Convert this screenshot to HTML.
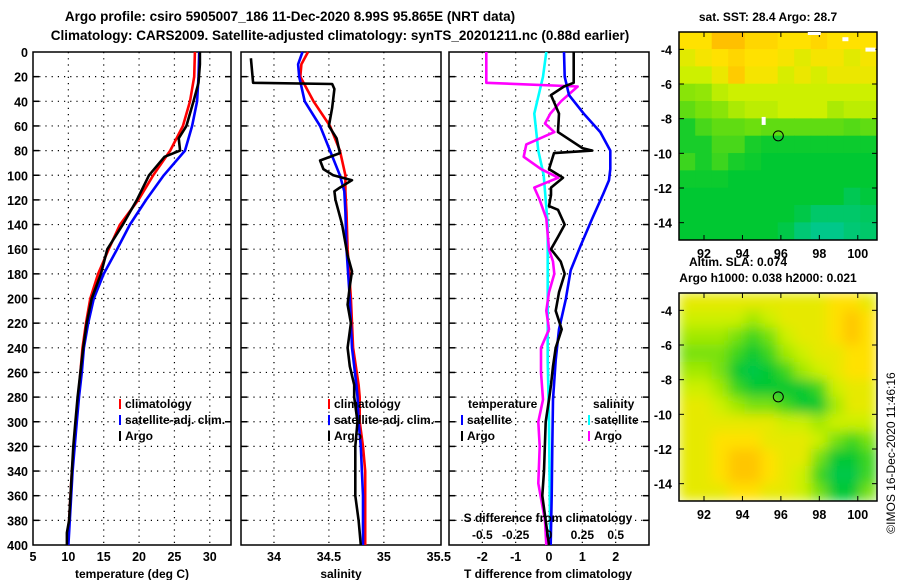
<!DOCTYPE html>
<html><head><meta charset="utf-8">
<style>
html,body{margin:0;padding:0;background:#fff;}
svg{display:block;font-family:"Liberation Sans",sans-serif;font-weight:bold;}
</style></head>
<body>
<svg id="fig" width="900" height="580" viewBox="0 0 900 580" xmlns="http://www.w3.org/2000/svg">
<text x="290" y="21" font-size="13.5" text-anchor="middle">Argo profile: csiro 5905007_186 11-Dec-2020 8.99S 95.865E (NRT data)</text>
<text x="340" y="40" font-size="13.5" text-anchor="middle">Climatology: CARS2009. Satellite-adjusted climatology: synTS_20201211.nc (0.88d earlier)</text>
<g id="plots"></g>
<text x="768" y="21" font-size="12" text-anchor="middle">sat. SST: 28.4 Argo: 28.7</text>
<text x="738" y="266" font-size="12" text-anchor="middle">Altim. SLA: 0.074</text>
<text x="768" y="282" font-size="12" text-anchor="middle">Argo h1000: 0.038 h2000: 0.021</text>
<text transform="translate(895,453) rotate(-90)" font-size="12" font-weight="normal" text-anchor="middle">©IMOS 16-Dec-2020 11:46:16</text>
</svg>
<script>
// ---------- data ----------
const tempDepthClim = [0,20,40,60,80,100,120,140,160,180,200,220,240,260,280,300,320,340,360,380,400];
const tempClim = [27.9,27.8,27.2,26.2,24.4,22.0,19.9,17.3,15.7,14.2,13.1,12.5,12.0,11.7,11.4,11.1,10.8,10.5,10.3,10.1,9.9];
const tempSat  = [28.5,28.4,28.2,27.5,26.5,23.5,21.0,18.7,16.9,15.0,13.6,12.8,12.2,11.9,11.5,11.2,10.9,10.6,10.4,10.2,10.0];
const tempArgoDepth = [0,10,25,40,60,70,80,85,100,120,140,160,180,200,220,240,260,280,300,320,340,360,380,390,400];
const tempArgo = [28.6,28.6,28.4,27.7,26.7,25.6,25.8,23.6,21.4,19.7,17.7,15.5,14.6,13.3,12.6,12.1,11.7,11.3,11.0,10.7,10.5,10.3,10.1,9.8,9.8];

const salDepthClim = [0,10,20,40,60,80,100,113,130,160,200,240,270,280,300,320,340,360,380,400];
const salClim = [34.31,34.25,34.24,34.36,34.51,34.60,34.65,34.65,34.66,34.67,34.70,34.72,34.77,34.78,34.78,34.81,34.83,34.83,34.83,34.83];
const salSat  = [34.26,34.22,34.23,34.28,34.42,34.51,34.60,34.64,34.65,34.66,34.69,34.71,34.75,34.76,34.77,34.79,34.80,34.81,34.81,34.81];
const salArgoDepth = [5,25,26,30,45,60,70,82,88,95,100,104,110,113,120,130,140,165,178,190,205,220,240,255,270,280,300,320,340,360,380,400];
const salArgo = [33.79,33.81,34.53,34.55,34.53,34.50,34.57,34.60,34.42,34.45,34.54,34.71,34.60,34.55,34.56,34.59,34.62,34.67,34.71,34.69,34.67,34.70,34.67,34.69,34.73,34.73,34.76,34.74,34.74,34.74,34.77,34.79];

const tdDepth = [0,20,35,50,65,80,95,104,115,135,157,177,201,225,250,282,320,360,400];
const tdSat = [0.45,0.47,0.6,1.04,1.54,1.84,1.84,1.8,1.63,1.3,0.95,0.65,0.5,0.3,0.2,0.12,0.1,0.08,0.05];
const tdArgoDepth = [0,25,28,35,50,65,78,80,82,95,102,110,116,125,128,140,150,160,170,180,195,210,225,240,255,270,282,300,340,360,400];
const tdArgo = [0.74,0.74,0.45,0.06,0.3,0.27,1.0,1.3,0.15,0.0,0.42,0.06,0.06,0.0,0.27,0.47,0.27,0.06,0.35,0.47,0.3,0.2,0.38,0.2,0.12,0.06,0.0,-0.1,-0.15,-0.2,0.0];
const sdDepth = [0,20,50,80,100,140,180,250,300,400];
const sdSat = [-0.02,-0.045,-0.11,-0.08,-0.04,-0.01,-0.01,-0.01,0.0,0.01];
const sdArgoDepth = [0,24,25,28,40,50,58,65,75,85,95,102,110,120,135,160,170,180,195,210,225,240,260,282,300,320,350,380,400];
const sdArgo = [-0.47,-0.47,-0.47,0.215,0.09,0.01,-0.03,0.04,-0.17,-0.19,-0.06,0.07,-0.11,-0.07,-0.02,0.0,0.03,0.04,0.0,-0.02,0.0,-0.06,-0.06,-0.045,-0.08,-0.07,-0.08,-0.03,-0.02];

const depthTicks = [0,20,40,60,80,100,120,140,160,180,200,220,240,260,280,300,320,340,360,380,400];
const tempTicks = [5,10,15,20,25,30];
const salTicks = [34,34.5,35,35.5];
const tdTicks = [-2,-1,0,1,2];
const sdTickLabels = ["-0.5","-0.25","0","0.25","0.5"];
const sdTicks = [-0.5,-0.25,0,0.25,0.5];

// map grids (colour index 0=teal .. 5=orange), rows north->south
const sstGrid = [
[4,4,4.6,4.6,4.2,4.2,4,4,4.2,4,4,4],
[3.4,3.8,4,4.2,4,4,3.8,3.4,3.8,3.8,3.4,3.8],
[3,3,3.6,4.4,3.8,3.8,3.2,3.6,3.2,3.6,3.6,3.6],
[2.2,2.3,2.8,3,3,3,3,3,3,3,3,3],
[1.8,2,2.2,2.6,2.8,2.8,3,3,3,2.6,2.8,2.8],
[1.2,1.6,1.8,1.8,1.9,1.8,1.8,1.8,1.8,1.8,1.7,1.8],
[1.2,1.2,1.6,1.6,1.2,1.1,1.1,1.1,1.1,1.1,1.1,1.1],
[1.5,1.2,1.5,1.2,1.1,1,1,1,1,1,1,1],
[1.1,1.1,1.1,1,1,1,1,1,1,1,1,1],
[1,1,1,1,1,1,1,1,1,1,0.7,0.9],
[1,1,1,1,1,1,1,0.8,0.5,0.5,0.5,0.6],
[1,1,1,1,1,1,0.8,0.4,0.2,0.2,0.4,0.5]];
const slaGrid = [
[3.5,3.5,3.5,3.5,3.5,3.5,3.5,3.5,3.5,4,4,3.5],
[3,3,3,3,2.5,3,3.5,3.5,3.5,4,4.5,4],
[2.5,2.5,2.5,2,1.5,2,3,3.5,3.5,4,4.5,4],
[2,2,2,1.5,1,1.5,2.5,3,3.5,3.5,4,4],
[2.5,2.5,2,1,0.8,1,1.5,2.5,3,3.5,4,4],
[3,3,2.5,1.5,1,1,1,1,1.5,3,3.5,3.5],
[3.5,3.5,3,2.5,2,2,1.5,1,1,2.5,3.5,3.5],
[3.5,3.5,3.5,3.5,3.5,3.5,3,3,2.5,3,3,3],
[3.5,3.5,4,4,4,3.5,3.5,3.5,3,2,1.5,2],
[3.5,3.5,4,4.5,4.5,4,3.5,3.5,2,1,1,1.5],
[3.5,3.5,4,4.5,4.5,4,3.5,3,1.5,0.8,0.8,1.5],
[3.5,3.5,3.5,4,4,3.5,3.5,3,2,1,1,2]];
const lonTicks = [92,94,96,98,100];
const latTicks = [-4,-6,-8,-10,-12,-14];
const argoLon = 95.865, argoLat = -8.99;

// ---------- drawing ----------
const NS = "http://www.w3.org/2000/svg";
const root = document.getElementById('plots');
function mk(tag, attrs, parent){ const e=document.createElementNS(NS,tag); for(const k in attrs) e.setAttribute(k,attrs[k]); (parent||root).appendChild(e); return e; }
const Y0=52, Y1=545;
const yD = d => Y0 + d*(Y1-Y0)/400;

function panel(name, x0, x1, vmin, vmax, gridVals){
  const g = mk('g',{});
  
  
  const sx = v => x0 + (v-vmin)*(x1-x0)/(vmax-vmin);
  gridVals.forEach(v=>{ const l=mk('line',{x1:sx(v),x2:sx(v),y1:Y0,y2:Y1,stroke:'#000','stroke-width':1.2,'stroke-dasharray':'1.2,5'},g);
      });
  depthTicks.forEach(d=>{ if(d===0||d===400) return; const l=mk('line',{x1:x0,x2:x1,y1:yD(d),y2:yD(d),stroke:'#000','stroke-width':1.2,'stroke-dasharray':'1.2,5'},g);
     
    mk('line',{x1:x0,x2:x0+6,y1:yD(d),y2:yD(d),stroke:'#000','stroke-width':1.5},g); mk('line',{x1:x1-6,x2:x1,y1:yD(d),y2:yD(d),stroke:'#000','stroke-width':1.5},g); });
  const r=mk('rect',{x:x0,y:Y0,width:x1-x0,height:Y1-Y0,fill:'none',stroke:'#000','stroke-width':1.5},g);
   
  return {g,sx};
}
function line(g, sx, depths, vals, color, name){
  const pts = depths.map((d,i)=>sx(vals[i]).toFixed(1)+','+yD(d).toFixed(1)).join(' ');
  const p = mk('polyline',{points:pts,fill:'none',stroke:color,'stroke-width':2.6,'stroke-linejoin':'round'},g);
  
  
}
function txt(s,x,y,attrs,name){ const t=mk('text',Object.assign({x:x,y:y,'font-size':12},attrs||{})); t.textContent=s;
  
  
  return t; }

// y tick labels
depthTicks.forEach(d=>{ txt(String(d),28,yD(d)+5,{'text-anchor':'end','font-size':12.5},'y-tick-label'); });

// panel 1
const P1 = panel('temperature-panel',33,231,5,33,[10,15,20,25,30]);
line(P1.g,P1.sx,tempDepthClim,tempClim,'#ff0000','temp-climatology-line');
line(P1.g,P1.sx,tempDepthClim,tempSat,'#0000ff','temp-satellite-line');
line(P1.g,P1.sx,tempArgoDepth,tempArgo,'#000000','temp-argo-line');
tempTicks.forEach(v=>txt(String(v),P1.sx(v),561,{'text-anchor':'middle','font-size':12.5},'x-tick-label'));
txt('temperature (deg C)',132,578,{'text-anchor':'middle'},'x-axis-title');

// panel 2
const P2 = panel('salinity-panel',241,441,33.7,35.52,[34,34.5,35]);
line(P2.g,P2.sx,salDepthClim,salClim,'#ff0000','sal-climatology-line');
line(P2.g,P2.sx,salDepthClim,salSat,'#0000ff','sal-satellite-line');
line(P2.g,P2.sx,salArgoDepth,salArgo,'#000000','sal-argo-line');
salTicks.forEach(v=>txt(String(v),P2.sx(v),561,{'text-anchor':'middle','font-size':12.5},'x-tick-label'));
txt('salinity',341,578,{'text-anchor':'middle'},'x-axis-title');

// panel 3
const P3 = panel('difference-panel',449,649,-3,3,[-2,-1,0,1,2]);
const sxS = v => P3.sx(v*4);
line(P3.g,sxS,sdDepth,sdSat,'#00ffff','sal-diff-satellite-line');
line(P3.g,sxS,sdArgoDepth,sdArgo,'#ff00ff','sal-diff-argo-line');
line(P3.g,P3.sx,tdDepth,tdSat,'#0000ff','temp-diff-satellite-line');
line(P3.g,P3.sx,tdArgoDepth,tdArgo,'#000000','temp-diff-argo-line');
tdTicks.forEach(v=>txt(String(v),P3.sx(v),561,{'text-anchor':'middle','font-size':12.5},'x-tick-label'));
txt('T difference from climatology',548,578,{'text-anchor':'middle'},'x-axis-title');
txt('S difference from climatology',548,522,{'text-anchor':'middle'},'s-axis-title');
sdTicks.forEach((v,i)=>txt(sdTickLabels[i],sxS(v),539,{'text-anchor':'middle'},'s-tick-label'));

// legends
function legItem(x,y,color,label){ const r=mk('rect',{x:x,y:y-9,width:2,height:10,fill:color});
   
  txt(label,x+6,y,{},'legend-entry'); }
[[119,'#ff0000','climatology'],[119,'#0000ff','satellite-adj. clim.'],[119,'#000','Argo']].forEach((e,i)=>legItem(e[0],408+16*i,e[1],e[2]));
[[328,'#ff0000','climatology'],[328,'#0000ff','satellite-adj. clim.'],[328,'#000','Argo']].forEach((e,i)=>legItem(e[0],408+16*i,e[1],e[2]));
txt('temperature',468,408,{},'legend-group-title');
txt('salinity',593,408,{},'legend-group-title');
legItem(461,424,'#0000ff','satellite'); legItem(461,440,'#000','Argo');
legItem(588,424,'#00ffff','satellite'); legItem(588,440,'#ff00ff','Argo');

// maps
function cmap(v){
  const stops=[[0,[0,200,160]],[1,[0,200,50]],[2,[120,225,10]],[3,[205,240,0]],[4,[255,225,0]],[5,[255,170,0]]];
  v=Math.max(0,Math.min(5,v)); const i=Math.min(4,Math.floor(v)); const f=v-i; const a=stops[i][1], b=stops[i+1][1];
  return 'rgb('+a.map((c,k)=>Math.round(c+(b[k]-c)*f)).join(',')+')';
}
function map(name, top, grid, blur){
  const x0=679,x1=877,y0=top,y1=top+208, lon0=90.7,lon1=101.0, lat0=-3.0,lat1=-15.0;
  const mx = l => x0+(l-lon0)*(x1-x0)/(lon1-lon0);
  const my = l => y0+(l-lat0)*(y1-y0)/(lat1-lat0);
  const g=mk('g',{});
  
  
  const clip='clip'+top;
  const cp=mk('clipPath',{id:clip},g); mk('rect',{x:x0,y:y0,width:x1-x0,height:y1-y0},cp);
  const cells=mk('g',{'clip-path':'url(#'+clip+')'},g);
  const inner=mk('g',blur?{filter:'url(#bl)'}:{},cells);
  const rows=grid.length, cols=grid[0].length, cw=(x1-x0)/cols, ch=(y1-y0)/rows;
  grid.forEach((row,r)=>row.forEach((v,c)=>{
    const e=mk('rect',{x:x0+c*cw-0.3,y:y0+r*ch-0.3,width:cw+0.6,height:ch+0.6,fill:cmap(v)},inner);
     
  }));
  const c=mk('circle',{cx:mx(argoLon),cy:my(argoLat),r:5,fill:'none',stroke:'#000','stroke-width':1},g);
   
  mk('rect',{x:x0,y:y0,width:x1-x0,height:y1-y0,fill:'none',stroke:'#000','stroke-width':1.5},g);
  lonTicks.forEach(l=>{ mk('line',{x1:mx(l),x2:mx(l),y1:y1,y2:y1-5,stroke:'#000'},g); mk('line',{x1:mx(l),x2:mx(l),y1:y0,y2:y0+5,stroke:'#000'},g);
    txt(String(l),mx(l),y1+18,{'text-anchor':'middle','font-size':12.5},'map-lon-label'); });
  latTicks.forEach(l=>{ mk('line',{x1:x0,x2:x0+5,y1:my(l),y2:my(l),stroke:'#000'},g); mk('line',{x1:x1-5,x2:x1,y1:my(l),y2:my(l),stroke:'#000'},g);
    txt(String(l),x0-7,my(l)+5,{'text-anchor':'end','font-size':12.5},'map-lat-label'); });
  return {g,mx,my};
}
const defs=mk('defs',{}); const f=mk('filter',{id:'bl',x:'-10%',y:'-10%',width:'120%',height:'120%'},defs); mk('feGaussianBlur',{stdDeviation:6},f);
const M1=map('sst-map',32,sstGrid,false);
[[95.0,-7.9,4,8],[97.4,-3.0,13,3],[99.2,-3.3,6,4],[100.4,-3.9,10,4]].forEach(w=>{
  const e=mk('rect',{x:M1.mx(w[0]),y:M1.my(w[1]),width:w[2],height:w[3],fill:'#fff'},M1.g);
    });
const M2=map('sla-map',293,slaGrid,true);
</script>
</body></html>
